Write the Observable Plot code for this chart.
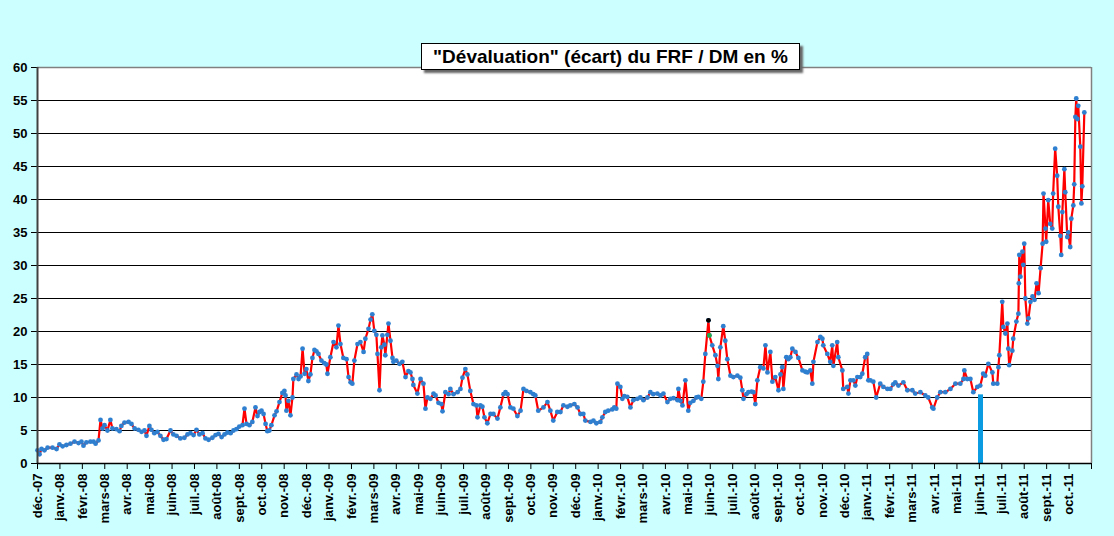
<!DOCTYPE html>
<html>
<head>
<meta charset="utf-8">
<script src="https://cdn.jsdelivr.net/npm/d3@7"></script>
<script src="https://cdn.jsdelivr.net/npm/@observablehq/plot@0.6"></script>
<style>
  html, body { margin: 0; padding: 0; background: #CCFFFF; }
  #wrap { position: relative; width: 1114px; height: 536px; overflow: hidden; }
  #title {
    position: absolute; left: 421px; top: 43px; width: 377px; height: 25px;
    background: #fff; border: 1px solid #000; box-shadow: 3px 3px 2px #666;
    font: bold 19px Arial, "Liberation Sans", sans-serif; color: #000;
    text-align: center; line-height: 25px; white-space: nowrap; z-index: 2;
  }
  #chart { position: absolute; left: 0; top: 0; }
</style>
</head>
<body>
<div id="wrap">
  <div id="chart"></div>
  <div id="title">"Dévaluation" (écart) du FRF / DM en %</div>
</div>
<script>
// Month tick labels (index 0 = déc.-07)
const monthLabels = ["déc.-07","janv.-08","févr.-08","mars-08","avr.-08","mai-08","juin-08","juil.-08","août-08","sept.-08","oct.-08","nov.-08","déc.-08",
  "janv.-09","févr.-09","mars-09","avr.-09","mai-09","juin-09","juil.-09","août-09","sept.-09","oct.-09","nov.-09","déc.-09",
  "janv.-10","févr.-10","mars-10","avr.-10","mai-10","juin-10","juil.-10","août-10","sept.-10","oct.-10","nov.-10","déc.-10",
  "janv.-11","févr.-11","mars-11","avr.-11","mai-11","juin-11","juil.-11","août-11","sept.-11","oct.-11"];

// Time, in months since 1 Dec 2007
const monthPos = [
  0.00,0.09,0.18,0.31,0.45,0.67,0.85,
  0.98,1.12,1.29,1.47,1.65,1.83,1.96,
  2.05,2.18,2.36,2.50,2.59,2.72,2.81,2.90,
  2.99,3.12,3.25,3.34,3.52,3.66,3.74,3.88,
  4.06,4.19,4.33,4.50,4.64,4.77,4.86,
  4.99,5.08,5.21,5.35,5.48,5.62,5.75,5.93,
  6.06,6.20,6.37,6.55,6.69,6.82,6.96,
  7.09,7.22,7.36,7.49,7.63,7.80,7.94,
  8.07,8.21,8.34,8.47,8.61,8.74,8.87,
  9.00,9.14,9.23,9.32,9.45,9.58,9.72,9.81,9.90,
  9.99,10.08,10.17,10.25,10.34,10.43,10.57,10.66,10.79,10.92,
  11.01,11.06,11.10,11.19,11.28,11.37,11.41,11.55,11.64,11.73,11.82,11.91,
  11.99,12.08,12.17,12.26,12.35,12.44,12.53,12.66,12.79,12.88,12.93,
  13.06,13.20,13.33,13.42,13.51,13.64,13.78,13.87,13.96,
  14.04,14.13,14.27,14.40,14.54,14.62,14.76,14.85,14.93,
  15.02,15.11,15.16,15.25,15.33,15.38,15.47,15.51,15.60,15.65,15.74,15.83,15.87,
  16.00,16.14,16.27,16.41,16.54,16.63,16.72,16.76,16.94,
  17.08,17.21,17.30,17.39,17.52,17.66,17.75,17.88,
  18.01,18.06,18.19,18.33,18.41,18.55,18.73,18.86,18.95,
  19.08,19.17,19.30,19.44,19.57,19.62,19.75,19.84,19.93,
  20.06,20.20,20.33,20.51,20.64,20.78,20.87,20.96,
  21.09,21.22,21.40,21.54,21.67,21.80,21.98,
  22.11,22.20,22.33,22.56,22.74,22.87,
  23.00,23.18,23.32,23.45,23.63,23.76,23.94,
  24.08,24.21,24.34,24.43,24.66,24.79,24.92,
  25.10,25.19,25.32,25.45,25.63,25.72,25.81,25.86,25.99,
  26.08,26.17,26.30,26.44,26.57,26.75,26.88,
  27.02,27.20,27.33,27.46,27.64,27.78,27.91,
  28.09,28.22,28.36,28.54,28.58,28.67,28.76,28.89,
  29.02,29.11,29.25,29.38,29.47,29.60,29.69,29.78,29.92,
  29.96,30.09,30.23,30.32,30.36,30.45,30.58,30.67,30.76,30.90,
  31.03,31.21,31.34,31.43,31.48,31.61,31.70,31.84,31.92,
  32.01,32.10,32.23,32.37,32.46,32.55,32.68,32.77,32.90,
  33.04,33.13,33.21,33.26,33.39,33.48,33.57,33.66,33.80,33.93,
  34.11,34.24,34.33,34.46,34.55,34.60,34.78,34.91,
  35.00,35.04,35.22,35.35,35.44,35.49,35.66,35.71,35.89,
  35.93,36.11,36.16,36.25,36.38,36.47,36.56,36.69,36.78,36.91,
  37.00,37.05,37.14,37.27,37.40,37.58,37.72,37.90,
  38.03,38.16,38.25,38.39,38.61,38.79,
  39.01,39.14,39.37,39.59,39.72,39.90,
  39.95,40.12,40.26,40.48,40.71,40.93,
  41.15,41.29,41.33,41.46,41.60,41.73,41.91,
  42.04,42.17,42.26,42.40,42.58,42.62,42.80,42.85,42.89,
  43.02,43.07,43.16,43.25,43.29,43.33,43.47,43.51,43.65,43.74,43.76,43.78,43.83,43.92,43.96,
  44.00,44.05,44.14,44.19,44.28,44.37,44.46,44.55,44.64,44.73,44.82,44.86,44.95,
  44.98,45.07,45.16,45.25,45.29,45.38,45.47,45.52,45.61,45.65,45.70,45.79,45.83,45.92,45.96,
  46.05,46.10,46.19,46.23,46.28,46.32,46.37,46.41,46.50,46.55,46.59,46.68
];

// "Dévaluation" (écart) FRF / DM, in %
const ecart = [
  2.0,1.4,2.2,2.0,2.4,2.4,2.2,
  2.9,2.6,2.8,3.0,3.3,3.1,3.3,
  2.7,3.2,3.3,3.3,3.0,3.5,6.6,5.3,
  5.8,5.0,6.6,5.3,5.2,4.9,5.7,6.2,
  6.3,6.0,5.3,5.1,4.8,5.0,4.2,
  5.7,5.1,4.6,4.8,4.2,3.6,3.7,5.0,
  4.4,4.2,3.8,3.9,4.4,4.6,4.3,
  5.1,4.4,4.6,3.8,3.6,3.9,4.3,
  4.5,4.0,4.4,4.7,4.6,5.0,5.2,
  5.6,5.8,8.3,6.0,5.8,6.3,8.5,7.2,7.8,
  8.0,7.5,6.0,4.9,5.0,5.8,7.3,7.9,9.3,10.7,
  11.0,10.3,8.0,9.5,7.3,10.0,12.8,13.5,12.8,13.2,17.4,13.6,
  14.3,12.5,13.5,16.0,17.2,17.0,16.6,15.6,15.2,15.0,13.6,
  16.1,18.4,17.6,20.9,18.1,16.0,15.8,13.1,12.3,
  12.1,15.6,18.1,18.4,16.9,18.9,20.4,21.8,22.6,
  20.1,19.5,16.6,11.1,17.6,19.4,18.0,16.4,19.5,21.2,18.6,16.0,15.4,
  15.6,15.1,15.4,13.1,14.0,13.8,12.8,11.9,10.6,
  12.8,12.1,8.3,10.0,9.8,10.6,10.3,9.2,
  9.0,7.9,10.8,10.5,11.3,10.5,10.8,11.3,13.0,
  14.3,13.5,11.0,9.0,8.8,7.0,8.8,8.6,7.0,
  6.1,7.5,7.5,6.8,8.5,10.5,10.8,10.5,
  8.5,8.3,7.2,8.0,11.3,11.0,10.8,
  10.5,10.3,8.0,8.5,9.3,8.0,
  6.5,7.8,7.8,8.8,8.6,8.8,9.0,
  8.5,7.5,7.5,6.5,6.3,6.5,6.1,
  6.3,7.0,7.8,8.0,8.2,8.5,8.3,12.1,11.6,
  9.8,10.2,10.1,8.5,9.6,9.8,10.0,
  9.6,10.0,10.8,10.5,10.6,10.3,10.6,
  9.3,9.8,9.9,9.6,11.3,9.5,8.8,12.6,
  8.0,9.2,9.5,10.0,10.1,9.8,12.4,16.6,21.7,
  19.4,17.9,16.4,14.8,12.8,17.6,20.8,18.6,15.8,13.3,
  13.1,13.3,13.0,11.1,9.8,10.5,10.8,10.9,10.8,
  9.0,12.6,14.6,14.4,17.9,13.8,16.9,12.4,13.1,
  11.1,13.5,14.6,11.3,16.1,15.8,16.1,17.4,16.9,16.0,
  14.1,13.9,13.8,14.1,12.1,15.4,18.4,19.2,
  18.9,17.9,16.6,15.4,17.9,14.8,18.4,16.1,14.1,
  11.3,11.6,10.6,12.6,12.6,11.8,13.1,13.1,13.6,16.1,
  16.6,12.6,12.6,12.4,10.0,12.1,11.6,11.3,
  11.3,12.0,12.3,11.8,12.3,11.1,
  11.1,10.6,10.8,10.3,10.0,8.5,
  8.3,10.0,10.8,10.8,11.3,12.1,
  12.1,12.8,14.1,12.8,12.8,10.8,11.6,
  11.8,13.6,13.3,15.1,13.8,12.1,12.1,14.6,16.4,
  24.5,20.7,19.7,21.2,17.4,14.9,17.1,18.9,21.5,22.7,27.3,31.6,28.3,32.1,30.1,
  33.3,25.0,21.2,22.0,24.5,25.3,24.8,27.3,25.8,29.6,33.3,40.9,35.6,
  33.6,39.9,36.3,35.6,40.9,47.7,43.6,38.9,34.5,31.6,38.1,44.6,41.1,34.3,35.0,
  32.8,37.1,39.1,42.3,52.5,55.3,52.2,54.2,48.0,39.4,42.0,53.2
];

// Highlighted marker (blue bar) at juin-11
const barPos = [42.05];
const barValue = [10.4];

// Special coloured points near juin-10
const specialPos = [29.92, 29.96];
const specialValue = [21.7, 19.4];
const specialColor = ["#000000", "#22AA44"];

const yTicks = d3.range(0, 61, 5);
const xTicks = d3.range(0, 48);

const n = Math.min(monthPos.length, ecart.length);
const data = d3.range(n).map(i => ({t: monthPos[i], v: ecart[i]}));
const bar = barPos.map((t, i) => ({t, v: barValue[i]}));
const special = specialPos.map((t, i) => ({t, v: specialValue[i], c: specialColor[i]}));

const chart = Plot.plot({
  width: 1114,
  height: 536,
  marginLeft: 37,
  marginRight: 23,
  marginTop: 67,
  marginBottom: 73,
  x: {type: "linear", domain: [0, 47]},
  y: {domain: [0, 60]},
  style: {background: "transparent", fontFamily: "Arial, 'Liberation Sans', sans-serif", color: "black"},
  marks: [
    Plot.frame({fill: "white", stroke: "none"}),
    Plot.ruleY(d3.range(5, 60, 5), {stroke: "black", strokeWidth: 1.2}),
    Plot.ruleY([60], {stroke: "#808080", strokeWidth: 1.5}),
    Plot.ruleX([47], {stroke: "#808080", strokeWidth: 1.5}),
    Plot.axisY({ticks: yTicks, tickSize: 6, tickPadding: 4, fontSize: 13, fontWeight: "bold", label: null}),
    Plot.axisX({ticks: xTicks, tickFormat: i => monthLabels[i] ?? "", tickRotate: -90, tickSize: 6, tickPadding: 4, fontSize: 13, fontWeight: "bold", label: null}),
    Plot.ruleX(bar, {x: "t", y1: 0, y2: "v", stroke: "#0A9BE0", strokeWidth: 5}),
    Plot.line(data, {x: "t", y: "v", stroke: "#FF0000", strokeWidth: 2.2}),
    Plot.dot(data, {x: "t", y: "v", r: 2.4, fill: "#2E7FCF", stroke: null}),
    Plot.dot(special, {x: "t", y: "v", r: 2.4, fill: "c", stroke: null}),
    Plot.ruleX([0], {stroke: "#404040", strokeWidth: 2}),
    Plot.ruleY([0], {stroke: "black", strokeWidth: 1.5})
  ]
});
document.getElementById("chart").append(chart);
</script>
</body>
</html>
